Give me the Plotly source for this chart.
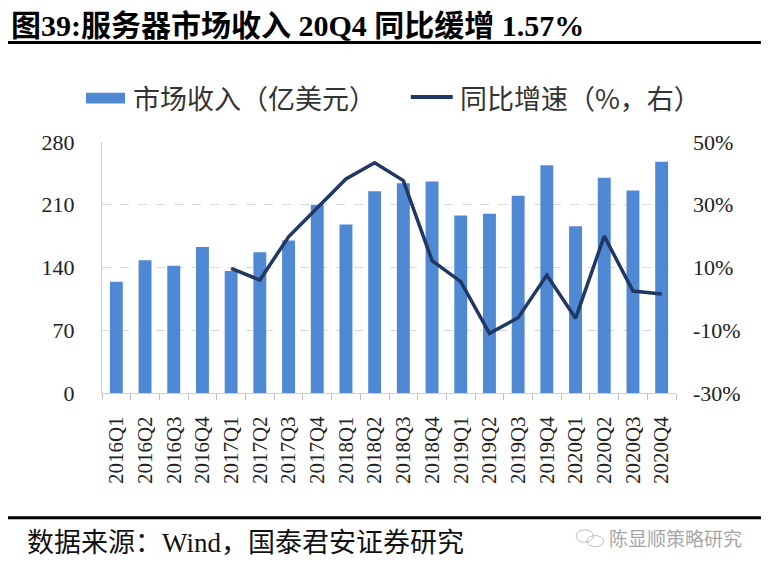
import plotly.graph_objects as go

# quarters, revenue (100m USD), yoy growth (%)
quarters = ['2016Q1', '2016Q2', '2016Q3', '2016Q4',
            '2017Q1', '2017Q2', '2017Q3', '2017Q4',
            '2018Q1', '2018Q2', '2018Q3', '2018Q4',
            '2019Q1', '2019Q2', '2019Q3', '2019Q4',
            '2020Q1', '2020Q2', '2020Q3', '2020Q4']
revenue = [124, 148, 142, 163, 136, 157, 170, 210, 188, 225,
           234, 236, 198, 200, 220, 254, 186, 240, 226, 258]
yoy = [None, None, None, None, 9.7, 6.0, 19.8, 28.9, 38.2, 43.4,
       37.7, 12.2, 5.5, -11.0, -6.0, 7.6, -6.2, 20.0, 2.5, 1.57]

left_ticks = [0, 70, 140, 210, 280]
right_ticks = [-30, -10, 10, 30, 50]

bar_color = '#5089D3'
line_color = '#1F3864'
serif = "Liberation Serif, Times New Roman, Noto Sans CJK SC, serif"

fig = go.Figure()
fig.add_trace(go.Bar(
    x=quarters, y=revenue, name='市场收入（亿美元）',
    marker=dict(color=bar_color, line=dict(width=0)),
))
fig.add_trace(go.Scatter(
    x=quarters, y=yoy, name='同比增速（%，右）', yaxis='y2',
    mode='lines', line=dict(color=line_color, width=3.5),
))

# page body has an 8px margin, so the figure is a bit smaller than the window
fig.update_layout(
    width=761, height=562,
    margin=dict(l=94, r=93, t=134, b=177),
    paper_bgcolor='white', plot_bgcolor='white',
    font=dict(family=serif, size=22, color='#222222'),
    bargap=0.55,
    showlegend=False,
    xaxis=dict(
        type='category', tickangle=-90, tickson='boundaries',
        ticks='outside', ticklen=6, tickcolor='#BFBFBF',
        showline=True, linecolor='#D0D0D0', linewidth=1,
        showgrid=False, tickfont=dict(size=21, color='#222222'),
        ticklabelstandoff=14,
    ),
    yaxis=dict(
        range=[0, 280], tickvals=left_ticks,
        showgrid=True, gridcolor='#D9D9D9', griddash='dash', gridwidth=1,
        showline=True, linecolor='#D0D0D0', zeroline=False,
        tickfont=dict(size=22), ticklabelstandoff=22,
    ),
    yaxis2=dict(
        range=[-30, 50], tickvals=right_ticks,
        ticktext=[f'{v}%' for v in right_ticks],
        overlaying='y', side='right', showgrid=False, zeroline=False,
        tickfont=dict(size=22), ticklabelstandoff=16,
    ),
)

# title and rules
fig.add_annotation(
    text='<b>图39:服务器市场收入 20Q4 同比缓增 1.57%</b>',
    xref='paper', yref='paper', x=-0.1603, y=1.532,
    xanchor='left', yanchor='top', showarrow=False, borderpad=0,
    font=dict(family=serif, size=30, color='#000000'),
)
fig.add_shape(type='line', xref='paper', yref='paper',
              x0=-0.1655, x1=1.2, y0=1.396, y1=1.396,
              line=dict(color='#000000', width=3))
fig.add_shape(type='line', xref='paper', yref='paper',
              x0=-0.1655, x1=1.2, y0=-0.497, y1=-0.497,
              line=dict(color='#000000', width=3))

# legend drawn by hand
fig.add_shape(type='rect', xref='paper', yref='paper',
              x0=-0.0279, x1=0.0401, y0=1.153, y1=1.196,
              fillcolor=bar_color, line=dict(width=0))
fig.add_annotation(
    text='市场收入（亿美元）', xref='paper', yref='paper',
    x=0.0505, y=1.179, xanchor='left', yanchor='middle', showarrow=False,
    font=dict(family='Noto Sans CJK SC', size=27, color='#333333'),
)
fig.add_shape(type='line', xref='paper', yref='paper',
              x0=0.538, x1=0.611, y0=1.179, y1=1.179,
              line=dict(color=line_color, width=4))
fig.add_annotation(
    text='同比增速（%，右）', xref='paper', yref='paper',
    x=0.620, y=1.179, xanchor='left', yanchor='middle', showarrow=False,
    font=dict(family='Noto Sans CJK SC', size=27, color='#333333'),
)

# source and watermark
fig.add_annotation(
    text='数据来源：Wind，国泰君安证券研究',
    xref='paper', yref='paper', x=-0.134, y=-0.598,
    xanchor='left', yanchor='middle', showarrow=False,
    font=dict(family=serif, size=27, color='#111111'),
)
fig.add_annotation(
    text='陈显顺策略研究',
    xref='paper', yref='paper', x=1.118, y=-0.574,
    xanchor='right', yanchor='middle', showarrow=False,
    font=dict(family='Noto Sans CJK SC', size=19, color='#A6A6A6'),
)
fig.add_shape(type='circle', xref='paper', yref='paper',
              x0=0.826, x1=0.856, y0=-0.595, y1=-0.545,
              line=dict(color='#BFBFBF', width=1))
fig.add_shape(type='circle', xref='paper', yref='paper',
              x0=0.845, x1=0.874, y0=-0.612, y1=-0.568,
              line=dict(color='#BFBFBF', width=1))

fig.write_html("out.html")
